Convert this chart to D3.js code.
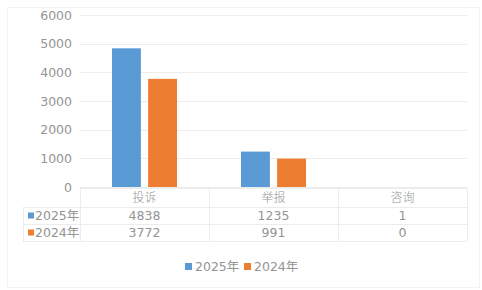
<!DOCTYPE html>
<html>
<head>
<meta charset="utf-8">
<script src="https://cdn.jsdelivr.net/npm/d3@7"></script>
<style>
  body { margin: 0; background: #fff; }
  text { font-family: "DejaVu Sans", "Noto Sans CJK SC", sans-serif; }
</style>
</head>
<body>
<svg id="chart" width="482" height="290"></svg>
<script>
// chart data
let categories = ['投诉', '举报', '咨询']
let seriesNames = ['2025年', '2024年']
let values2025 = [4838, 1235, 1]
let values2024 = [3772, 991, 0]
let yTicks = [0, 1000, 2000, 3000, 4000, 5000, 6000]

let colors = ['#5b9bd5', '#ed7d31']
let seriesValues = [values2025, values2024]

let svg = d3.select('#chart')
let textColor = '#949494'
let lineColor = '#ececec'

// outer frame
svg.append('rect')
    .attr('x', 7.5).attr('y', 7.5)
    .attr('width', 472).attr('height', 280)
    .attr('fill', 'none')
    .attr('stroke', '#f3f3f3')

let x = d3.scaleBand()
    .domain(categories)
    .range([80, 467])

let inner = d3.scaleBand()
    .domain(seriesNames)
    .range([0, 65])
    .paddingInner(0.2)

let groupOffset = (x.bandwidth() - 65) / 2

let y = d3.scaleLinear()
    .domain([0, 6000])
    .range([187, 15])

// gridlines
svg.selectAll('.grid')
    .data(yTicks)
    .enter()
    .append('line')
    .attr('x1', 80).attr('x2', 467)
    .attr('y1', d => Math.round(y(d)) + 0.5)
    .attr('y2', d => Math.round(y(d)) + 0.5)
    .attr('stroke', lineColor)

// y axis labels
let yAxis = d3.axisLeft(y).tickValues(yTicks).tickFormat(d3.format('d')).tickSize(0).tickPadding(8)
let yg = svg.append('g')
    .attr('transform', 'translate(80,0)')
    .call(yAxis)
yg.select('.domain').remove()
yg.selectAll('text')
    .attr('fill', textColor)
    .style('font-size', '12.5px')
    .style('font-family', '"DejaVu Sans", sans-serif')

// bars
seriesNames.forEach((s, si) => {
    svg.selectAll('.bar' + si)
        .data(categories)
        .enter()
        .append('rect')
        .attr('x', c => x(c) + groupOffset + inner(s))
        .attr('y', (c, i) => y(seriesValues[si][i]))
        .attr('width', inner.bandwidth())
        .attr('height', (c, i) => y(0) - y(seriesValues[si][i]))
        .attr('fill', colors[si])
})

// data table
let tableLeft = 23
let rowTops = [188, 207, 224, 241]
let tbl = svg.append('g')

// horizontal rules
rowTops.forEach((t, i) => {
    tbl.append('line')
        .attr('x1', i === 0 ? 80 : tableLeft).attr('x2', 467)
        .attr('y1', t + 0.5).attr('y2', t + 0.5)
        .attr('stroke', lineColor)
})
// vertical rules
let vlines = [80].concat(categories.map(c => x(c) + x.bandwidth()))
vlines.forEach(v => {
    tbl.append('line')
        .attr('x1', Math.round(v) + 0.5).attr('x2', Math.round(v) + 0.5)
        .attr('y1', rowTops[0]).attr('y2', rowTops[3])
        .attr('stroke', lineColor)
})
tbl.append('line')
    .attr('x1', tableLeft + 0.5).attr('x2', tableLeft + 0.5)
    .attr('y1', rowTops[1]).attr('y2', rowTops[3])
    .attr('stroke', lineColor)

// category header
tbl.selectAll('.cat')
    .data(categories)
    .enter()
    .append('text')
    .attr('x', c => x(c) + x.bandwidth() / 2)
    .attr('y', 202)
    .attr('text-anchor', 'middle')
    .attr('fill', textColor)
    .style('font-size', '12px')
    .style('font-family', '"Noto Sans CJK SC", sans-serif')
    .style('font-weight', '300')
    .text(c => c)

// series rows
seriesNames.forEach((s, si) => {
    let mid = (rowTops[si + 1] + rowTops[si + 2]) / 2
    tbl.append('rect')
        .attr('x', 28).attr('y', mid - 3)
        .attr('width', 6).attr('height', 6)
        .attr('fill', colors[si])
    tbl.append('text')
        .attr('x', 35).attr('y', mid + 4.5)
        .attr('fill', textColor)
        .style('font-size', '12.5px')
        .text(s)
    tbl.selectAll('.val' + si)
        .data(categories)
        .enter()
        .append('text')
        .attr('x', c => x(c) + x.bandwidth() / 2)
        .attr('y', mid + 4.5)
        .attr('text-anchor', 'middle')
        .attr('fill', textColor)
        .style('font-size', '12.5px')
        .text((c, i) => seriesValues[si][i])
})

// legend
let legend = svg.append('g')
let legendX = [185, 244]
seriesNames.forEach((s, si) => {
    legend.append('rect')
        .attr('x', legendX[si]).attr('y', 263)
        .attr('width', 7).attr('height', 7)
        .attr('fill', colors[si])
    legend.append('text')
        .attr('x', legendX[si] + 10).attr('y', 271)
        .attr('fill', textColor)
        .style('font-size', '12.5px')
        .text(s)
})
</script>
</body>
</html>
